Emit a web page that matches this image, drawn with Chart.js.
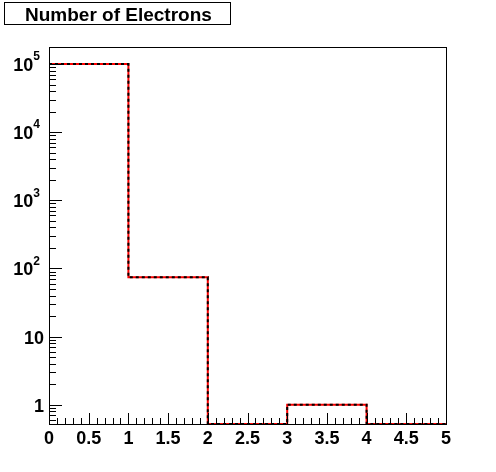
<!DOCTYPE html>
<html lang="en">
<head>
    <meta charset="UTF-8">
    <title>Number of Electrons</title>
    <script src="https://cdn.jsdelivr.net/npm/chart.js"></script>
    <style>
        body { margin: 0; background: #fff; }
        canvas { display: block; }
    </style>
</head>
<body>
    <canvas id="hist" width="496" height="472"></canvas>

    <script>
        // histogram data (bin edges + contents)
        const binEdges = [0, 1, 2, 3, 4, 5];
        const binCounts = [99925, 74, 0, 1, 0];

        // axis ticks
        const xTicks = [0, 0.5, 1, 1.5, 2, 2.5, 3, 3.5, 4, 4.5, 5];
        const yDecades = [1, 10, 100, 1000, 10000, 100000];
        const yLabelExp = [0, 1, 2, 3, 4, 5];

        const yMin = 0.52;
        const yMax = 178000;
        const FONT = '"Liberation Sans", Arial, Helvetica, sans-serif';

        // empty bins are drawn on the bottom of the frame, like ROOT does
        const stepPoints = binEdges.map((x, i) => {
            const v = binCounts[Math.min(i, binCounts.length - 1)];
            return { x: x, y: v > 0 ? v : yMin };
        });

        // frame, inward ticks, y labels with exponents, title box
        const rootStyle = {
            id: 'rootStyle',
            afterDraw(chart) {
                const ctx = chart.ctx;
                const a = chart.chartArea;
                const xs = chart.scales.x;
                const ys = chart.scales.y;
                ctx.save();
                ctx.strokeStyle = '#000';
                ctx.lineWidth = 1;
                ctx.strokeRect(Math.round(a.left) + 0.5, Math.round(a.top) + 0.5,
                    Math.round(a.right - a.left), Math.round(a.bottom - a.top));

                ctx.beginPath();
                // x ticks: every 0.1, longer every 0.5
                for (let i = 0; i <= 50; i++) {
                    const px = Math.round(xs.getPixelForValue(i / 10)) + 0.5;
                    const len = i % 5 === 0 ? 11 : 6;
                    ctx.moveTo(px, a.bottom);
                    ctx.lineTo(px, a.bottom - len);
                }
                // y ticks: decades long, 2..9 short
                for (let d = -1; d <= 5; d++) {
                    for (let m = 1; m <= 9; m++) {
                        const v = m * Math.pow(10, d);
                        if (v < yMin || v > yMax) continue;
                        const py = Math.round(ys.getPixelForValue(v)) + 0.5;
                        const len = m === 1 ? 13 : 7;
                        ctx.moveTo(a.left, py);
                        ctx.lineTo(a.left + len, py);
                    }
                }
                ctx.stroke();

                // y labels
                ctx.fillStyle = '#000';
                ctx.textBaseline = 'middle';
                yDecades.forEach((v, i) => {
                    const py = ys.getPixelForValue(v) + 2;
                    const e = yLabelExp[i];
                    ctx.font = 'bold 18px ' + FONT;
                    if (e <= 1) {
                        ctx.textAlign = 'right';
                        ctx.fillText(String(v), 44, py);
                    } else {
                        ctx.font = 'bold 12px ' + FONT;
                        const ew = ctx.measureText(String(e)).width;
                        ctx.textAlign = 'left';
                        ctx.fillText(String(e), 40 - ew, py - 9);
                        ctx.font = 'bold 18px ' + FONT;
                        ctx.textAlign = 'right';
                        ctx.fillText('10', 40 - ew, py);
                    }
                });

                // title box
                ctx.fillStyle = '#fff';
                ctx.fillRect(4, 2, 227, 23);
                ctx.strokeRect(4.5, 2.5, 226, 22);
                ctx.fillStyle = '#000';
                ctx.font = 'bold 19px ' + FONT;
                ctx.textAlign = 'left';
                ctx.textBaseline = 'alphabetic';
                ctx.fillText('Number of Electrons', 25, 21);
                ctx.restore();
            }
        };

        new Chart(document.getElementById('hist'), {
            type: 'line',
            data: {
                datasets: [
                    {
                        data: stepPoints,
                        stepped: 'before',
                        borderColor: '#000',
                        borderWidth: 2,
                        borderDash: [3, 3],
                        pointRadius: 0,
                        fill: false,
                        clip: 4,
                        order: 0
                    },
                    {
                        data: stepPoints,
                        stepped: 'before',
                        borderColor: '#ff0000',
                        borderWidth: 2,
                        pointRadius: 0,
                        fill: false,
                        clip: 4,
                        order: 1
                    }
                ]
            },
            options: {
                responsive: false,
                animation: false,
                events: [],
                layout: { padding: { top: 47, right: 50, left: 0, bottom: 0 } },
                plugins: {
                    legend: { display: false },
                    tooltip: { enabled: false }
                },
                scales: {
                    x: {
                        type: 'linear',
                        min: 0,
                        max: 5,
                        border: { display: false },
                        grid: { display: false, drawTicks: false },
                        afterBuildTicks: (s) => { s.ticks = xTicks.map(v => ({ value: v })); },
                        afterFit: (s) => { s.height = 48; },
                        ticks: {
                            color: '#000',
                            padding: 4,
                            maxRotation: 0,
                            autoSkip: false,
                            font: { family: FONT, size: 18, weight: 'bold' },
                            callback: (v) => String(v)
                        }
                    },
                    y: {
                        type: 'logarithmic',
                        min: yMin,
                        max: yMax,
                        border: { display: false },
                        grid: { display: false, drawTicks: false },
                        afterBuildTicks: (s) => { s.ticks = yDecades.map(v => ({ value: v })); },
                        afterFit: (s) => { s.width = 49; },
                        ticks: { display: false }
                    }
                }
            },
            plugins: [rootStyle]
        });
    </script>
</body>
</html>
